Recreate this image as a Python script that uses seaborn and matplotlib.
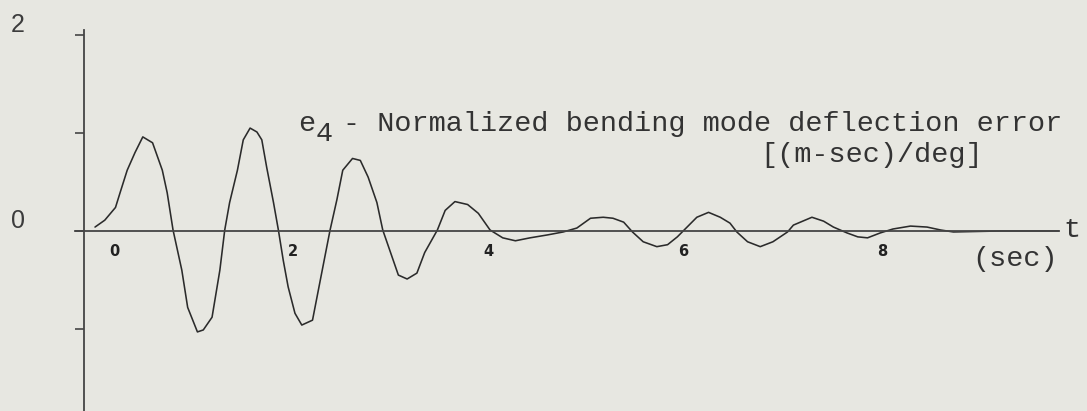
import numpy as np
import pandas as pd
import matplotlib
matplotlib.use("Agg")
import matplotlib.pyplot as plt
import seaborn as sns

# e4 response: time (sec) and normalized deflection error
t_sec = [0.00, 0.10, 0.21, 0.26, 0.33, 0.41, 0.49, 0.59, 0.69, 0.74,
         0.80, 0.89, 0.95, 1.05, 1.11, 1.20, 1.28, 1.33, 1.38, 1.46,
         1.52, 1.59, 1.66, 1.71, 1.76, 1.83, 1.88, 1.93, 1.98, 2.05,
         2.12, 2.23, 2.31, 2.41, 2.48, 2.54, 2.64, 2.72, 2.80, 2.89,
         2.95, 3.03, 3.11, 3.20, 3.30, 3.38, 3.51, 3.59, 3.69, 3.82,
         3.93, 4.05, 4.18, 4.31, 4.46, 4.64, 4.80, 4.94, 5.08, 5.21,
         5.31, 5.42, 5.51, 5.62, 5.76, 5.87, 5.97, 6.07, 6.17, 6.29,
         6.41, 6.51, 6.58, 6.69, 6.82, 6.95, 7.10, 7.16, 7.35, 7.47,
         7.57, 7.71, 7.82, 7.92, 8.05, 8.18, 8.36, 8.53, 8.67, 8.80,
         9.28, 9.88]
e4 = [0.04, 0.11, 0.24, 0.40, 0.62, 0.80, 0.96, 0.90, 0.62, 0.39,
      0.01, -0.40, -0.78, -1.03, -1.01, -0.88, -0.40, 0.01, 0.29, 0.62,
      0.93, 1.05, 1.01, 0.93, 0.65, 0.29, 0.01, -0.30, -0.57, -0.84,
      -0.96, -0.91, -0.50, 0.01, 0.32, 0.62, 0.74, 0.72, 0.55, 0.29,
      0.01, -0.22, -0.45, -0.49, -0.43, -0.22, 0.01, 0.21, 0.30, 0.27,
      0.18, 0.01, -0.07, -0.10, -0.07, -0.04, -0.01, 0.03, 0.13, 0.14,
      0.13, 0.09, -0.01, -0.11, -0.16, -0.14, -0.06, 0.04, 0.14, 0.19,
      0.14, 0.08, -0.01, -0.11, -0.16, -0.11, -0.01, 0.06, 0.14, 0.10,
      0.04, -0.02, -0.06, -0.07, -0.02, 0.02, 0.05, 0.04, 0.01, -0.01,
      0.00, 0.00]

x_ticks = [0, 2, 4, 6, 8]
x_tick_labels = ["0", "2", "4", "6", "8"]
y_ticks = [-1, 0, 1, 2]
y_tick_labels = ["", "0", "", "2"]

title_var = "e"
title_sub = "4"
title_rest = "- Normalized bending mode deflection error"
units_label = "[(m-sec)/deg]"
axis_name = "t"
axis_units = "(sec)"

W, H = 1087, 411
PAPER = "#e7e7e1"
INK = "#2b2b2b"
AXIS = "#454545"

sns.set_theme(style="white")
plt.rcParams["font.family"] = ["DejaVu Sans"]

fig = plt.figure(figsize=(W / 100, H / 100), dpi=100, facecolor=PAPER)
ax = fig.add_axes([0, 0, 1, 1], facecolor=PAPER)

df = pd.DataFrame({"t": t_sec, "e4": e4})
sns.lineplot(data=df, x="t", y="e4", ax=ax, color=INK, linewidth=1.15,
             estimator=None, sort=False)

ax.set_xlim(-0.974, 10.17)
ax.set_ylim(-1.837, 2.357)
ax.set_xlabel("")
ax.set_ylabel("")

# hand-drawn style axes crossing near the origin
for side in ("top", "right"):
    ax.spines[side].set_visible(False)
ax.spines["left"].set_position(("data", -0.11))
ax.spines["left"].set_bounds(-1.9, 2.05)
ax.spines["bottom"].set_position(("data", 0))
ax.spines["bottom"].set_bounds(-0.2, 9.88)
for side in ("left", "bottom"):
    ax.spines[side].set_color(AXIS)
    ax.spines[side].set_linewidth(1.3)

ax.set_yticks(y_ticks)
ax.set_xticks(x_ticks)
ax.tick_params(axis="y", direction="out", length=6.5, width=1.2,
               color=AXIS, left=True, labelleft=False)
ax.tick_params(axis="x", length=0, labelbottom=False)

# y tick labels set far to the left, a little above their ticks
for val, lab in zip(y_ticks, y_tick_labels):
    if lab:
        ax.annotate(lab, xy=(-0.11, val), xycoords="data",
                    xytext=(-43, 7), textcoords="offset points",
                    ha="right", va="center", fontsize=18,
                    family="Liberation Sans", color="#3c3c3c")

# small hand-lettered time labels under the axis
x_shift = [14, 2, 2, 2, 5]
for val, lab, dx in zip(x_ticks, x_tick_labels, x_shift):
    ax.annotate(lab, xy=(val, 0), xycoords="data",
                xytext=(dx, -15), textcoords="offset points",
                ha="center", va="center", fontsize=10.5,
                fontweight="bold", family="DejaVu Sans", color="#222222")

mono = dict(family="Liberation Mono", color="#333333", fontsize=20.5)


def px(x, y):
    return x / W, 1 - y / H


fig.text(*px(298, 131), title_var, ha="left", va="baseline", **mono)
fig.text(*px(316, 141), title_sub, ha="left", va="baseline", **mono)
fig.text(*px(343, 131), title_rest, ha="left", va="baseline", **mono)
fig.text(*px(760, 162), units_label, ha="left", va="baseline", **mono)
fig.text(*px(1063, 237), axis_name, ha="left", va="baseline", **mono)
fig.text(*px(972, 266), axis_units, ha="left", va="baseline", **mono)

fig.savefig("out.png", dpi=100, facecolor=PAPER)
